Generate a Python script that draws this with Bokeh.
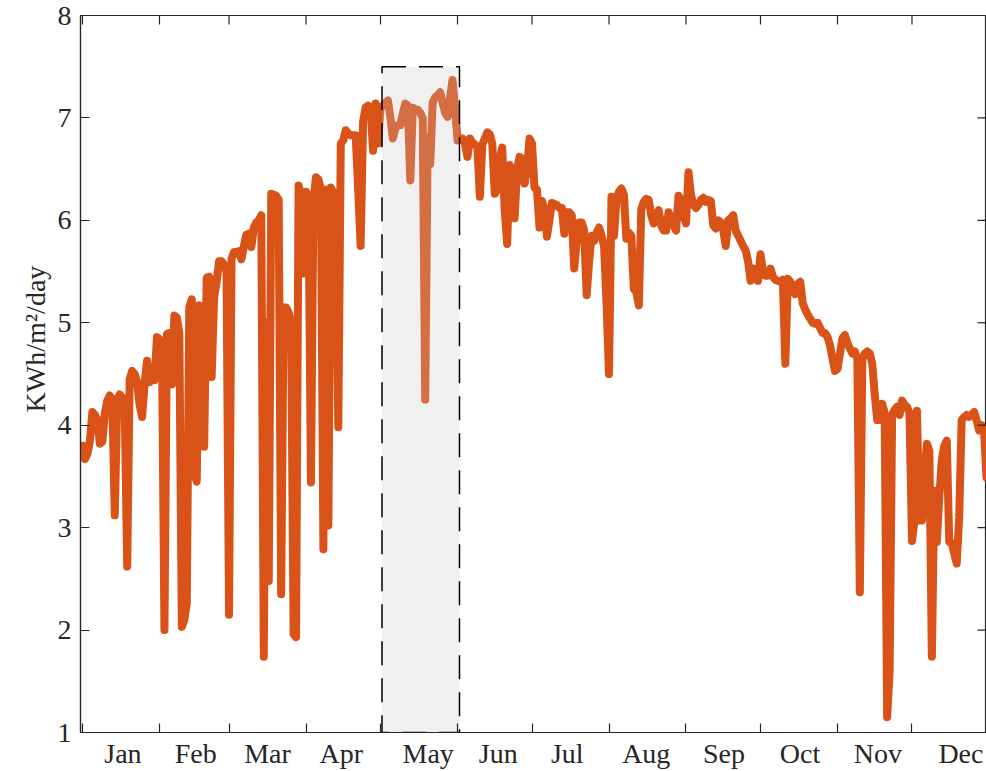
from bokeh.plotting import figure
from bokeh.models import Range1d, FixedTicker, Title, ColumnDataSource, CustomJSTickFormatter
from bokeh.embed import file_html
from bokeh.resources import INLINE

# Daily solar irradiation (KWh/m2/day), one list per month
jan = [3.80, 3.67, 3.72, 3.85, 4.13, 4.10, 4.05, 3.82, 3.84, 4.12,
       4.24, 4.29, 4.25, 3.12, 4.25, 4.30, 4.27, 4.20, 2.62, 4.45,
       4.53, 4.50, 4.42, 4.20, 4.08, 4.40, 4.63, 4.42, 4.45, 4.44, 4.86]
feb = [4.84, 4.80, 2.00, 4.89, 4.90, 4.40, 5.07, 5.05, 4.90, 2.03,
       2.10, 2.26, 5.15, 5.23, 3.53, 3.45, 5.17, 5.15, 3.79, 5.44,
       5.45, 4.47, 5.25, 5.40, 5.60, 5.60, 5.57, 5.50]
mar = [2.15, 5.62, 5.69, 5.69, 5.70, 5.62, 5.75, 5.86, 5.87, 5.74,
       5.93, 5.98, 6.00, 6.05, 1.74, 5.00, 2.48, 6.26, 6.25, 6.24,
       6.20, 2.35, 5.15, 5.15, 5.10, 5.00, 1.96, 1.93, 6.34, 6.25, 5.48]
apr = [6.28, 6.20, 3.44, 6.20, 6.42, 6.40, 6.30, 2.79, 6.30, 3.02,
       6.32, 6.27, 6.20, 3.98, 6.75, 6.78, 6.88, 6.85, 6.83, 6.83,
       6.83, 6.30, 5.75, 6.97, 7.10, 7.12, 7.10, 6.68, 7.14, 6.75]
may = [7.10, 7.12, 7.15, 7.17, 7.00, 6.80, 6.90, 6.93, 6.93, 7.05,
       7.14, 7.12, 6.39, 7.10, 7.08, 7.08, 7.05, 7.00, 4.25, 6.81,
       6.55, 7.15, 7.20, 7.22, 7.25, 7.15, 7.05, 7.01, 7.20, 7.37, 7.10]
jun = [6.78, 6.80, 6.80, 6.75, 6.62, 6.80, 6.76, 6.74, 6.72, 6.23,
       6.74, 6.80, 6.86, 6.84, 6.75, 6.26, 6.30, 6.60, 6.71, 6.10,
       5.77, 6.54, 6.30, 6.02, 6.50, 6.62, 6.60, 6.36, 6.50, 6.80]
jul = [6.75, 6.32, 6.30, 5.93, 6.19, 6.10, 5.84, 6.00, 6.17, 6.16,
       6.15, 6.12, 6.12, 5.87, 6.08, 6.08, 6.05, 5.53, 5.80, 5.98,
       5.98, 5.90, 5.27, 5.60, 5.85, 5.80, 5.88, 5.93, 5.85, 5.75, 5.20]
aug = [4.50, 6.23, 5.85, 6.20, 6.28, 6.31, 6.25, 5.82, 5.88, 5.85,
       5.33, 5.30, 5.17, 6.11, 6.18, 6.21, 6.20, 6.05, 5.97, 6.05,
       6.10, 5.95, 5.90, 5.90, 6.08, 6.02, 5.95, 5.90, 6.24, 6.20, 6.05]
sep = [5.97, 6.47, 6.25, 6.15, 6.12, 6.15, 6.20, 6.22, 6.18, 6.20,
       6.19, 5.95, 5.92, 6.00, 5.98, 5.90, 5.75, 6.00, 6.02, 6.05,
       5.90, 5.85, 5.80, 5.75, 5.71, 5.60, 5.41, 5.53, 5.52, 5.41]
oct_ = [5.67, 5.50, 5.46, 5.46, 5.53, 5.45, 5.42, 5.41, 5.40, 5.42,
        4.60, 5.43, 5.40, 5.35, 5.28, 5.38, 5.40, 5.19, 5.13, 5.08,
        5.04, 5.00, 4.99, 5.00, 4.95, 4.90, 4.90, 4.86, 4.78, 4.65, 4.53]
nov = [4.55, 4.70, 4.85, 4.88, 4.80, 4.75, 4.70, 4.72, 4.65, 2.37,
       4.65, 4.70, 4.72, 4.70, 4.60, 4.30, 4.05, 4.05, 4.21, 4.12,
       1.15, 1.60, 4.10, 4.15, 4.18, 4.10, 4.24, 4.20, 4.18, 4.12]
dec = [2.87, 3.07, 4.14, 3.07, 3.07, 3.50, 3.82, 3.75, 1.74, 3.36,
       2.86, 3.30, 3.66, 3.80, 3.85, 2.86, 2.85, 2.75, 2.65, 3.10,
       4.05, 4.08, 4.10, 4.08, 4.10, 4.13, 4.05, 3.95, 4.00, 3.95, 3.49]

daily_kwh = jan + feb + mar + apr + may + jun + jul + aug + sep + oct_ + nov + dec
days = list(range(1, len(daily_kwh) + 1))

month_names = ["Jan", "Feb", "Mar", "Apr", "May", "Jun",
               "Jul", "Aug", "Sep", "Oct", "Nov", "Dec"]
month_start_days = [1, 32, 60, 91, 121, 152, 182, 213, 244, 274, 305, 335]
month_label_days = [17.3, 46.6, 75.5, 105.2, 140.2, 168.4,
                    196.2, 228.0, 259.3, 289.9, 321.3, 354.7]
y_ticks = [1, 2, 3, 4, 5, 6, 7, 8]
y_label = "KWh/m²/day"

# highlighted period (May)
hl_left = [121.6]
hl_right = [152.8]
hl_bottom = [1.0]
hl_top = [7.5]

INK = "#262626"
FONT = "Liberation Serif"
FS = "28px"
X0, X1 = 0.2, 365.0
Y0, Y1 = 1, 8
W, H = 986, 771
BL, BT, BB = 80, 15, 39
TICK = 9

p = figure(width=W, height=H, x_range=Range1d(X0, X1), y_range=Range1d(Y0, Y1),
           output_backend="svg", toolbar_location=None,
           min_border_left=BL, min_border_right=0, min_border_top=BT, min_border_bottom=BB)
p.xgrid.visible = False
p.ygrid.visible = False
p.outline_line_color = INK
p.outline_line_width = 1.2
p.background_fill_color = "white"
p.border_fill_color = "white"

xa = p.xaxis[0]
xa.ticker = FixedTicker(ticks=month_label_days, minor_ticks=month_start_days)
xa.formatter = CustomJSTickFormatter(args=dict(pos=month_label_days, names=month_names), code="""
    for (let i = 0; i < pos.length; i++) { if (Math.abs(pos[i] - tick) < 1e-6) return names[i]; }
    return "";
""")
xa.major_tick_in = 0
xa.major_tick_out = 0
xa.minor_tick_in = TICK
xa.minor_tick_out = 0
xa.minor_tick_line_color = INK
xa.minor_tick_line_width = 1.2
xa.axis_line_color = INK
xa.axis_line_width = 1.2
xa.major_label_text_font = FONT
xa.major_label_text_font_size = FS
xa.major_label_text_color = INK
xa.major_label_standoff = 5

ya = p.yaxis[0]
ya.ticker = FixedTicker(ticks=y_ticks)
ya.major_tick_in = TICK
ya.major_tick_out = 0
ya.major_tick_line_color = INK
ya.major_tick_line_width = 1.2
ya.minor_tick_line_color = None
ya.axis_line_color = INK
ya.axis_line_width = 1.2
ya.major_label_text_font = FONT
ya.major_label_text_font_size = FS
ya.major_label_text_color = INK
ya.major_label_standoff = 9

p.line(days, daily_kwh, line_color="#D95319", line_width=8,
       line_join="round", line_cap="round")

hl = ColumnDataSource(dict(left=hl_left, right=hl_right, bottom=hl_bottom, top=hl_top))
p.quad(left="left", right="right", bottom="bottom", top="top", source=hl,
       fill_color="#c4c4c4", fill_alpha=0.25,
       line_color="black", line_width=1.5, line_dash="24 13")

# mirrored inward tick marks on the right and top edges of the box
tick_dx = TICK * (X1 - X0) / (W - BL)
tick_dy = TICK * (Y1 - Y0) / (H - BT - BB)
p.segment(x0=[X1 - tick_dx] * len(y_ticks), x1=[X1] * len(y_ticks),
          y0=y_ticks, y1=y_ticks, line_color=INK, line_width=1.2)
p.segment(x0=month_start_days, x1=month_start_days,
          y0=[Y1 - tick_dy] * len(month_start_days), y1=[Y1] * len(month_start_days),
          line_color=INK, line_width=1.2)

# y-axis label as a left-side title (placed slightly above the frame centre, as in the original)
p.add_layout(Title(text=y_label, align="left", offset=320, text_font=FONT,
                   text_font_size=FS, text_font_style="normal", text_color=INK,
                   standoff=8), "left")

open("out.html", "w").write(file_html(p, INLINE))
